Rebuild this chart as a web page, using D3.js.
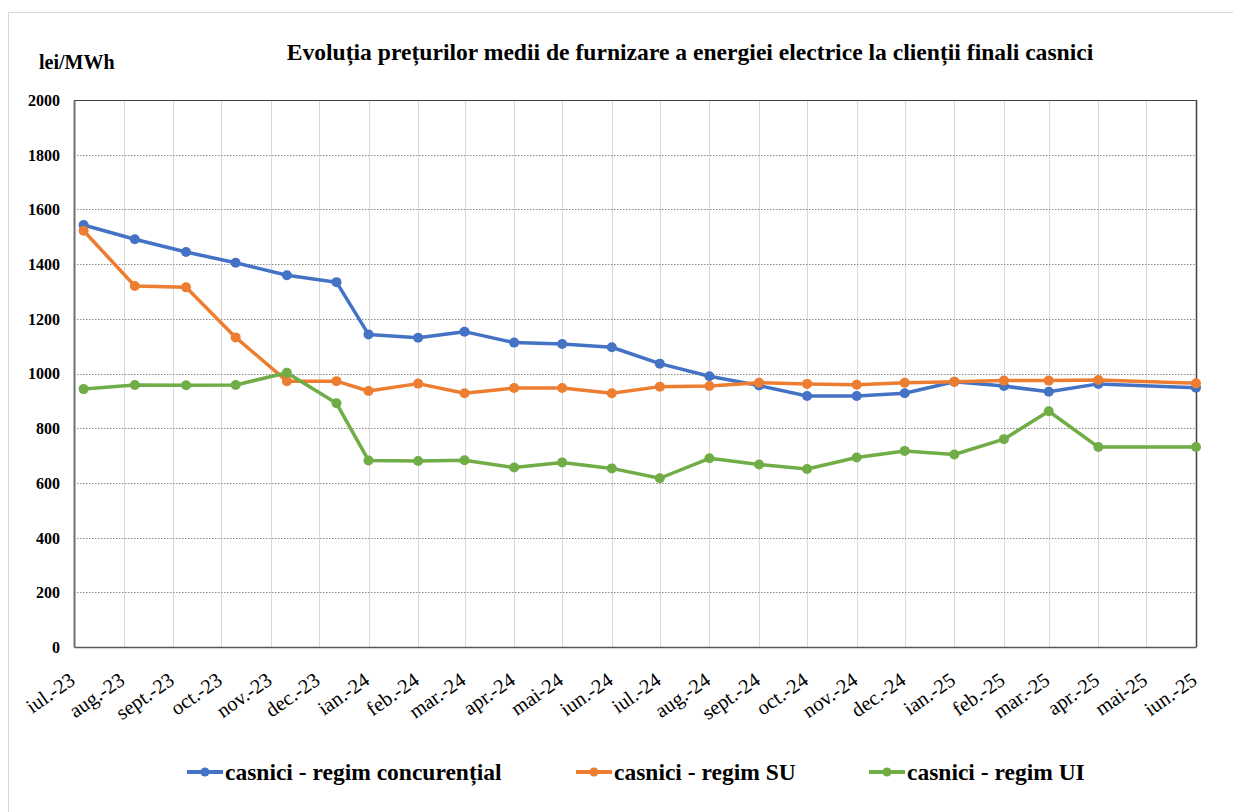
<!DOCTYPE html>
<html>
<head>
<meta charset="utf-8">
<script src="https://cdn.jsdelivr.net/npm/d3@7"></script>
<style>
  body { margin: 0; background: #fff; }
  svg { display: block; font-family: "Liberation Serif", "Times New Roman", serif; }
  .grid-h line { stroke: #8c8c8c; stroke-width: 1; stroke-dasharray: 1.5,1.5; }
  .grid-v line { stroke: #d9d9d9; stroke-width: 1; }
  .series path { fill: none; stroke-width: 3.5; stroke-linejoin: round; }
  .tick text { font-family: "Liberation Serif", "Times New Roman", serif; }
</style>
</head>
<body>
<div class="main"></div>
<script>
const svgWidth = 1233,
    svgHeight = 812,
    plot = {left: 74, right: 1196, top: 100, bottom: 647};

// month labels shown under the axis (one per month start)
const monthLabels = ["iul.-23", "aug.-23", "sept.-23", "oct.-23", "nov.-23", "dec.-23",
  "ian.-24", "feb.-24", "mar.-24", "apr.-24", "mai-24", "iun.-24",
  "iul.-24", "aug.-24", "sept.-24", "oct.-24", "nov.-24", "dec.-24",
  "ian.-25", "feb.-25", "mar.-25", "apr.-25", "mai-25", "iun.-25"];

// dates of the observations (no value for mai-25)
const pointDates = ["2023-07-07", "2023-08-08", "2023-09-09", "2023-10-10", "2023-11-11", "2023-12-12",
  "2024-01-01", "2024-02-01", "2024-03-01", "2024-04-01", "2024-05-01", "2024-06-01",
  "2024-07-01", "2024-08-01", "2024-09-01", "2024-10-01", "2024-11-01", "2024-12-01",
  "2025-01-01", "2025-02-01", "2025-03-01", "2025-04-01", "2025-06-01"];

const concurential = [1543, 1491, 1444, 1405, 1359, 1334, 1143, 1131, 1153, 1113, 1108, 1096,
  1036, 990, 956, 918, 918, 928, 970, 954, 933, 962, 948];
const regimSU = [1522, 1320, 1315, 1132, 972, 972, 936, 963, 928, 947, 947, 928,
  952, 954, 966, 962, 959, 966, 970, 974, 974, 976, 964];
const regimUI = [943, 958, 957, 958, 1003, 891, 682, 680, 683, 656, 675, 653,
  617, 690, 667, 651, 693, 717, 704, 760, 862, 731, 731];

const seriesNames = ["casnici - regim concurențial", "casnici - regim SU", "casnici - regim UI"];
const seriesColors = ["#4472C4", "#ED7D31", "#70AD47"];
const yTicks = [0, 200, 400, 600, 800, 1000, 1200, 1400, 1600, 1800, 2000];

const parseDate = d3.timeParse("%Y-%m-%d");
const dates = pointDates.map(parseDate);
const series = [concurential, regimSU, regimUI].map((vals, i) => ({
  name: seriesNames[i],
  color: seriesColors[i],
  values: vals.map((v, j) => ({date: dates[j], value: v}))
}));

const svg = d3.select("body>.main").append("svg")
    .attr("width", svgWidth)
    .attr("height", svgHeight);

// chart frame
svg.append("rect")
    .attr("x", 8.5).attr("y", 12.5)
    .attr("width", 1240).attr("height", 820)
    .style("fill", "#fff")
    .style("stroke", "#d9d9d9");

const x = d3.scaleTime()
    .domain([new Date(2023, 6, 1), new Date(2025, 5, 1)])
    .range([plot.left, plot.right]);
const y = d3.scaleLinear().domain([0, 2000]).range([plot.bottom, plot.top]);

const monthStarts = d3.timeMonth.range(new Date(2023, 6, 1), new Date(2025, 5, 2));

// vertical grid
svg.append("g").attr("class", "grid-v")
  .selectAll("line")
  .data(monthStarts.slice(1, -1))
  .enter().append("line")
    .attr("x1", d => Math.round(x(d)) + 0.5)
    .attr("x2", d => Math.round(x(d)) + 0.5)
    .attr("y1", plot.top)
    .attr("y2", plot.bottom);

// horizontal grid
svg.append("g").attr("class", "grid-h")
  .selectAll("line")
  .data(yTicks.slice(1))
  .enter().append("line")
    .attr("x1", plot.left)
    .attr("x2", plot.right)
    .attr("y1", d => Math.round(y(d)) + 0.5)
    .attr("y2", d => Math.round(y(d)) + 0.5);

// plot border
svg.append("line")
    .attr("x1", plot.right + 0.5).attr("x2", plot.right + 0.5)
    .attr("y1", plot.top).attr("y2", plot.bottom)
    .style("stroke", "#404040").style("stroke-width", 1.5);
svg.append("line")
    .attr("x1", plot.left).attr("x2", plot.right)
    .attr("y1", plot.top + 0.5).attr("y2", plot.top + 0.5)
    .style("stroke", "#404040").style("stroke-width", 1);

// y axis
const yAxis = d3.axisLeft(y).tickValues(yTicks).tickSize(0).tickPadding(14)
    .tickFormat(d3.format("d"));
const gy = svg.append("g")
    .attr("transform", "translate(" + plot.left + ",0)")
    .call(yAxis);
gy.attr("font-family", null).attr("font-size", null);
gy.select(".domain").style("stroke", "#707070").style("stroke-width", 2);
gy.selectAll("text")
    .attr("dy", "0.34em")
    .style("font-size", "16px")
    .style("font-weight", "bold")
    .style("fill", "#000");

// x axis
const xAxis = d3.axisBottom(x).tickValues(monthStarts).tickSize(0)
    .tickFormat((d, i) => monthLabels[i]);
const gx = svg.append("g")
    .attr("transform", "translate(0," + plot.bottom + ")")
    .call(xAxis);
gx.attr("font-family", null).attr("font-size", null);
gx.select(".domain").style("stroke", "#595959").style("stroke-width", 1.5);
gx.selectAll("text")
    .attr("y", 0)
    .attr("dy", 0)
    .attr("transform", "translate(2,36) rotate(-35)")
    .style("text-anchor", "end")
    .style("font-size", "20.5px")
    .style("fill", "#000");

// lines + markers
const line = d3.line().x(d => x(d.date)).y(d => y(d.value));
const sg = svg.append("g").attr("class", "series")
  .selectAll("g")
  .data(series)
  .enter().append("g");

sg.append("path")
    .attr("d", d => line(d.values))
    .style("stroke", d => d.color);

sg.selectAll("circle")
    .data(d => d.values.map(v => Object.assign({color: d.color}, v)))
    .enter().append("circle")
      .attr("cx", d => x(d.date))
      .attr("cy", d => y(d.value))
      .attr("r", 5)
      .style("fill", d => d.color);

// titles
svg.append("text")
    .attr("x", 690).attr("y", 60)
    .attr("text-anchor", "middle")
    .style("font-size", "23.6px")
    .style("font-weight", "bold")
    .text("Evoluția prețurilor medii de furnizare a energiei electrice la clienții finali casnici");

svg.append("text")
    .attr("x", 39).attr("y", 69)
    .style("font-size", "20px")
    .style("font-weight", "bold")
    .text("lei/MWh");

// legend
const legendX = [187, 576, 869];
const legend = svg.append("g").attr("class", "legend")
  .selectAll("g")
  .data(series)
  .enter().append("g")
    .attr("transform", (d, i) => "translate(" + legendX[i] + ",772)");

legend.append("line")
    .attr("x1", 0).attr("x2", 36)
    .style("stroke", d => d.color)
    .style("stroke-width", 4);
legend.append("circle")
    .attr("cx", 18).attr("r", 4.5)
    .style("fill", d => d.color);
legend.append("text")
    .attr("x", 38)
    .attr("dy", "0.33em")
    .style("font-size", "23.5px")
    .style("font-weight", "bold")
    .text(d => d.name);
</script>
</body>
</html>
